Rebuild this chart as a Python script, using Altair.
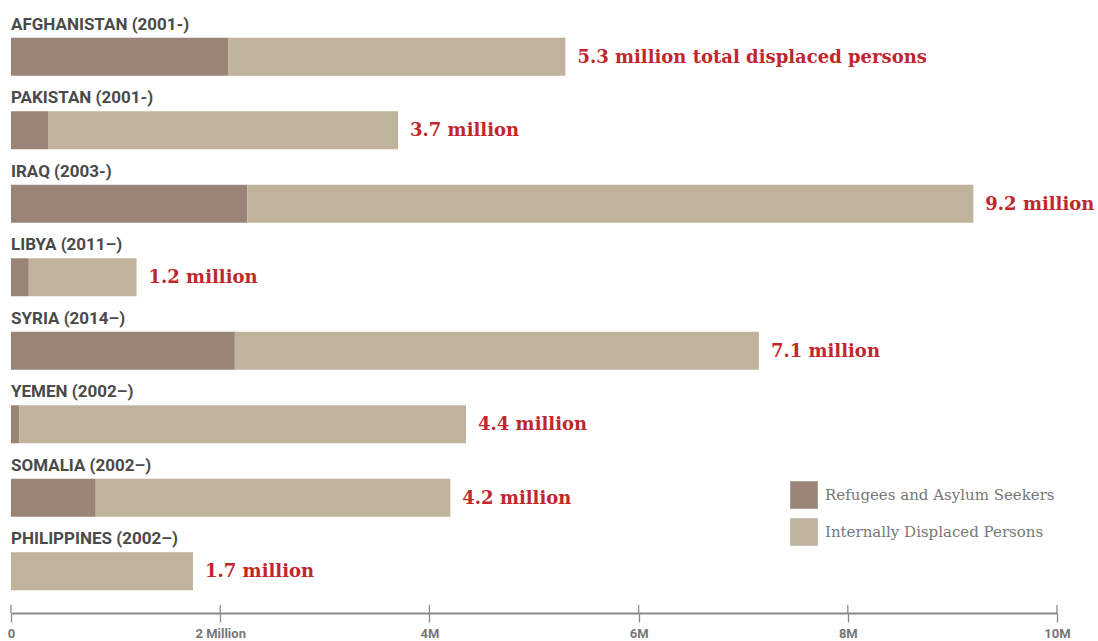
import altair as alt
import pandas as pd

countries = ["AFGHANISTAN (2001-)", "PAKISTAN (2001-)", "IRAQ (2003-)", "LIBYA (2011–)",
             "SYRIA (2014–)", "YEMEN (2002–)", "SOMALIA (2002–)", "PHILIPPINES (2002–)"]
refugees = [2.08, 0.36, 2.26, 0.17, 2.14, 0.08, 0.81, 0.0]
idps = [3.22, 3.34, 6.94, 1.03, 5.01, 4.27, 3.39, 1.74]
totals = [5.3, 3.7, 9.2, 1.2, 7.1, 4.4, 4.2, 1.7]
total_labels = ["5.3 million total displaced persons", "3.7 million", "9.2 million", "1.2 million",
                "7.1 million", "4.4 million", "4.2 million", "1.7 million"]
series = ["Refugees and Asylum Seekers", "Internally Displaced Persons"]
colors = ["#9a8477", "#c0b39b"]
tick_values = [0, 2e6, 4e6, 6e6, 8e6, 10e6]

rows = []
for i, c in enumerate(countries):
    rows.append({"country": c, "series": series[0], "value": refugees[i] * 1e6, "ord": 0})
    rows.append({"country": c, "series": series[1], "value": idps[i] * 1e6, "ord": 1})
df = pd.DataFrame(rows)

lab = pd.DataFrame({"country": countries,
                    "bar_end": [(r + d) * 1e6 for r, d in zip(refugees, idps)],
                    "label": total_labels, "zero": [0] * len(countries)})

yenc = alt.Y("country:N", sort=countries, axis=None,
             scale=alt.Scale(paddingInner=0, paddingOuter=0))
xscale = alt.Scale(domain=[0, 10e6], nice=False)

bars = alt.Chart(df).mark_bar(size=38).encode(
    x=alt.X("value:Q", stack="zero", scale=xscale,
            axis=alt.Axis(values=tick_values,
                          labelExpr="datum.value == 0 ? '0' : datum.value == 2000000 ? '2 Million' : (datum.value/1000000) + 'M'",
                          title=None, grid=False, domainColor="#8a8a8a", domainWidth=1.8,
                          tickColor="#8a8a8a", tickSize=9, tickWidth=1.3, offset=5,
                          labelFont="Roboto", labelFontSize=13, labelFontWeight="bold",
                          labelColor="#777", labelPadding=5, labelFlush=False)),
    y=yenc,
    color=alt.Color("series:N", sort=series,
                    scale=alt.Scale(domain=series, range=colors),
                    legend=alt.Legend(orient="none", legendX=779, legendY=461, title=None,
                                      symbolType="square", symbolSize=760, symbolStrokeWidth=0,
                                      symbolOpacity=1, rowPadding=9,
                                      labelFont="DejaVu Serif", labelFontSize=15,
                                      labelColor="#777", labelOffset=7, labelLimit=400)),
    order=alt.Order("ord:Q"),
)

# upper half of the axis ticks (ticks cross the axis line in the reference)
tick_df = pd.DataFrame({"t": tick_values})
up_ticks = alt.Chart(tick_df).mark_rule(color="#8a8a8a", strokeWidth=1.3).encode(
    x=alt.X("t:Q", scale=xscale), y=alt.value(585), y2=alt.value(593)
)

names = alt.Chart(lab).mark_text(align="left", baseline="middle", dy=-32,
                                 font="Roboto", fontWeight="bold", fontSize=17,
                                 color="#4a4a4a").encode(
    x=alt.X("zero:Q", scale=xscale), y=yenc, text="label_c:N"
).transform_calculate(label_c="datum.country")

totals_txt = alt.Chart(lab).mark_text(align="left", baseline="middle", dx=12, dy=1,
                                      font="DejaVu Serif", fontWeight="bold", fontSize=18,
                                      color="#c0272d").encode(
    x=alt.X("bar_end:Q", scale=xscale), y=yenc, text="label:N"
)

chart = alt.layer(bars, up_ticks, names, totals_txt).properties(
    width=1046, height=588,
    autosize=alt.AutoSizeParams(type="none"),
    padding={"left": 11, "top": 20, "right": 41, "bottom": 33},
    background="white",
).configure_view(stroke=None)

chart.save("out.html", embed_options={"renderer": "svg", "actions": False})
